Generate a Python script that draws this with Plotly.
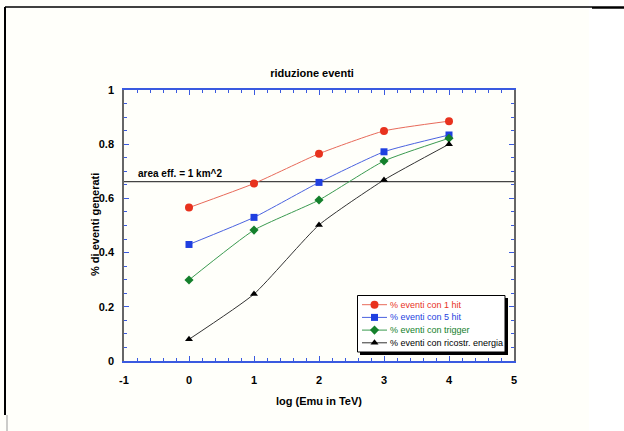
import plotly.graph_objects as go

# ---- data ----
log_e = [0, 1, 2, 3, 4]
hit1 = [0.566, 0.655, 0.765, 0.849, 0.885]
hit5 = [0.430, 0.530, 0.659, 0.772, 0.834]
trigger = [0.299, 0.483, 0.594, 0.738, 0.822]
ricostr = [0.080, 0.247, 0.502, 0.668, 0.800]
area_level = 0.662
x_range = [-1, 5]
y_range = [0, 1]
x_ticks = [-1, 0, 1, 2, 3, 4, 5]
x_ticklabels = ["-1", "0", "1", "2", "3", "4", "5"]
y_ticks = [0, 0.2, 0.4, 0.6, 0.8, 1]
y_ticklabels = ["0", "0.2", "0.4", "0.6", "0.8", "1"]
series_names = ["% eventi con 1 hit", "% eventi con 5 hit",
                "% eventi con trigger", "% eventi con ricostr. energia"]

W, H = 624, 431
L, R, T, B = 124, 110, 90, 70
pw, ph = W - L - R, H - T - B


def px(x):
    return (x - L) / pw


def py(y):
    return (H - B - y) / ph


def fy(y):  # full-height fraction (for title)
    return (H - y) / H


FONT = "Liberation Sans, Arial, sans-serif"
BLUE_AX = "#3a5ae0"

styles = [
    ("#e8321e", "#e86a5a", "circle", 8),
    ("#1f3fe0", "#4a62e0", "square", 7),
    ("#14802c", "#3a9a50", "diamond", 7),
    ("#000000", "#333333", "triangle-up", 7),
]
series_vals = [hit1, hit5, trigger, ricostr]

fig = go.Figure()

# reference line (effective area = 1 km^2)
fig.add_trace(go.Scatter(x=x_range, y=[area_level, area_level], mode="lines",
                         line=dict(color="#444444", width=1.2), showlegend=False,
                         hoverinfo="skip"))

for name, vals, (mcol, lcol, sym, size) in zip(series_names, series_vals, styles):
    fig.add_trace(go.Scatter(
        x=log_e, y=vals, mode="lines+markers", name=name, showlegend=False,
        line=dict(color=lcol, width=1, shape="spline", smoothing=0.5),
        marker=dict(color=mcol, symbol=sym, size=size, line=dict(width=0)),
    ))

# ---- custom legend in an inset subplot (pixel units) ----
LG_X0, LG_Y0, LG_W, LG_H = 357, 295, 148, 57
SH = 3
row_h, row0 = 12.7, 9.7
for i, (name, (mcol, lcol, sym, size)) in enumerate(zip(series_names, styles)):
    yy = row0 + i * row_h
    fig.add_trace(go.Scatter(x=[5, 30], y=[yy, yy], mode="lines", line=dict(color=lcol, width=1),
                             xaxis="x2", yaxis="y2", showlegend=False, hoverinfo="skip"))
    fig.add_trace(go.Scatter(x=[17.5], y=[yy], mode="markers",
                             marker=dict(color=mcol, symbol=sym, size=size, line=dict(width=0)),
                             xaxis="x2", yaxis="y2", showlegend=False, hoverinfo="skip"))
    fig.add_annotation(text=name, x=31, y=yy, xref="x2", yref="y2", xanchor="left",
                       yanchor="middle", showarrow=False,
                       font=dict(family=FONT, size=9, color=mcol))

axis_common = dict(showgrid=False, zeroline=False, mirror="ticks", showline=True,
                   ticks="inside", tickcolor=BLUE_AX, tickwidth=1,
                   tickfont=dict(family=FONT, size=11, color="black", weight="bold"))

fig.update_layout(
    xaxis=dict(range=x_range, tickvals=x_ticks, ticktext=x_ticklabels, linecolor=BLUE_AX,
               linewidth=1.5, ticklen=5, ticklabelstandoff=8,
               minor=dict(dtick=0.2, ticklen=3, ticks="inside", tickcolor=BLUE_AX, showgrid=False),
               title=dict(text="log (Emu in TeV)", standoff=12,
                          font=dict(family=FONT, size=11, color="black", weight="bold")),
               **axis_common),
    yaxis=dict(range=y_range, tickvals=y_ticks, ticktext=y_ticklabels, linecolor="#666666",
               linewidth=1.5, ticklen=5, ticklabelstandoff=6,
               minor=dict(dtick=0.05, ticklen=3, ticks="inside", tickcolor=BLUE_AX, showgrid=False),
               **axis_common),
    xaxis2=dict(domain=[px(LG_X0), px(LG_X0 + LG_W + SH + 1)], range=[0, LG_W + SH + 1],
                visible=False, fixedrange=True, anchor="y2"),
    yaxis2=dict(domain=[py(LG_Y0 + LG_H + SH + 1), py(LG_Y0)], range=[LG_H + SH + 1, 0],
                visible=False, fixedrange=True, anchor="x2"),
)

shapes = [
    # white region at right
    dict(type="rect", xref="paper", yref="paper", x0=px(589), x1=px(625), y0=py(432), y1=py(-1),
         fillcolor="white", line=dict(width=0), layer="below"),
    # frame left & top
    dict(type="line", xref="paper", yref="paper", x0=px(5), x1=px(5), y0=py(7), y1=py(415),
         line=dict(color="black", width=2)),
    dict(type="line", xref="paper", yref="paper", x0=px(7), x1=px(7), y0=py(415), y1=py(431),
         line=dict(color="#999999", width=1)),
    dict(type="line", xref="paper", yref="paper", x0=px(5), x1=px(592), y0=py(7), y1=py(7),
         line=dict(color="black", width=1.5)),
    dict(type="line", xref="paper", yref="paper", x0=px(592), x1=px(624), y0=py(7.5), y1=py(7.5),
         line=dict(color="black", width=2.5)),
    # legend box with drop shadow
    dict(type="rect", xref="x2", yref="y2", x0=SH, x1=LG_W + SH, y0=SH, y1=LG_H + SH,
         fillcolor="black", line=dict(width=0), layer="below"),
    dict(type="rect", xref="x2", yref="y2", x0=0.5, x1=LG_W, y0=0.5, y1=LG_H,
         fillcolor="white", line=dict(color="black", width=1), layer="below"),
]

fig.update_layout(
    width=W, height=H, margin=dict(l=L, r=R, t=T, b=B, autoexpand=False),
    paper_bgcolor="#fffffa", plot_bgcolor="rgba(0,0,0,0)",
    title=dict(text="riduzione eventi", x=px(319), xanchor="center", y=fy(73),
               yanchor="middle", font=dict(family=FONT, size=11, color="black", weight="bold")),
    shapes=shapes,
    annotations=list(fig.layout.annotations) + [
        dict(text="area eff. = 1 km^2", xref="paper", yref="paper", x=px(136), y=py(173),
             xanchor="left", yanchor="middle", showarrow=False,
             font=dict(family=FONT, size=10, color="black", weight="bold")),
        dict(text="% di eventi generati", xref="paper", yref="paper", x=px(95), y=py(225),
             xanchor="center", yanchor="middle", textangle=-90, showarrow=False,
             font=dict(family=FONT, size=11, color="black", weight="bold")),
    ],
    showlegend=False,
)

fig.write_html("out.html")
